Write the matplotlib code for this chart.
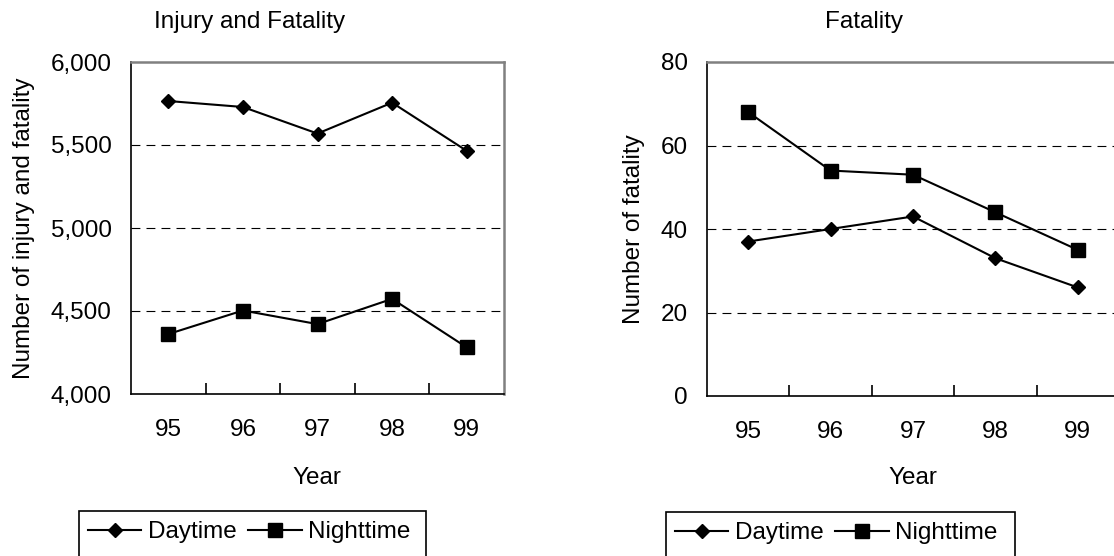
import numpy as np
import matplotlib.pyplot as plt
from matplotlib.patches import Rectangle
from matplotlib.lines import Line2D

plt.rcParams['font.family'] = ['Liberation Sans', 'DejaVu Sans']

years = ['95', '96', '97', '98', '99']
injury_day = [5765, 5729, 5569, 5755, 5465]
injury_night = [4361, 4503, 4421, 4573, 4281]
fatal_day = [37, 40, 43, 33, 26]
fatal_night = [68, 54, 53, 44, 35]

injury_ticks = [4000, 4500, 5000, 5500, 6000]
fatal_ticks = [0, 20, 40, 60, 80]

W, H = 1114, 556
FS = 17.5
fig = plt.figure(figsize=(W / 100, H / 100), dpi=100)


def px_axes(x0, y0, x1, y1):
    return fig.add_axes([x0 / W, 1 - y1 / H, (x1 - x0) / W, (y1 - y0) / H])


def draw(ax, day, night, yticks):
    x = np.arange(len(years))
    ax.plot(x, day, color='black', lw=1.5, marker='D', ms=7, zorder=3)
    ax.plot(x, night, color='black', lw=1.5, marker='s', ms=9.5, zorder=3)
    ax.set_xlim(-0.5, len(years) - 0.5)
    ax.set_ylim(yticks[0], yticks[-1])
    ax.set_xticks(x)
    ax.set_xticklabels(years)
    ax.set_xticks(x[:-1] + 0.5, minor=True)
    ax.tick_params(axis='x', which='major', length=0, pad=18, labelsize=FS)
    ax.tick_params(axis='x', which='minor', direction='in', length=8, width=1.2, color='black')
    ax.set_yticks(yticks)
    ax.set_yticklabels([f'{v:,}' for v in yticks])
    ax.tick_params(axis='y', length=0, pad=14, labelsize=FS)
    for y in yticks[1:-1]:
        ax.axhline(y, color='black', lw=0.8, ls=(0, (8, 5.5)), zorder=1)
    for s in ['left', 'bottom']:
        ax.spines[s].set_color('black')
        ax.spines[s].set_linewidth(1.2)
    for s in ['top', 'right']:
        ax.spines[s].set_color('#808080')
        ax.spines[s].set_linewidth(1.8)


ax1 = px_axes(131, 62, 504, 394)
ax2 = px_axes(707, 62, 1119, 396)
draw(ax1, injury_day, injury_night, injury_ticks)
draw(ax2, fatal_day, fatal_night, fatal_ticks)

# titles and axis labels
fig.text(250 / W, 1 - 28 / H, 'Injury and Fatality', ha='center', va='baseline', fontsize=FS)
fig.text(864 / W, 1 - 28 / H, 'Fatality', ha='center', va='baseline', fontsize=FS)
fig.text(317 / W, 1 - 484 / H, 'Year', ha='center', va='baseline', fontsize=FS)
fig.text(913 / W, 1 - 484 / H, 'Year', ha='center', va='baseline', fontsize=FS)
fig.text(24 / W, 1 - 228 / H, 'Number of injury and fatality', rotation=90,
         ha='center', va='center', fontsize=FS)
fig.text(634 / W, 1 - 229 / H, 'Number of fatality', rotation=90,
         ha='center', va='center', fontsize=FS)

# legends with an open-bottom box
handles = [
    Line2D([], [], color='black', lw=1.5, marker='D', ms=7),
    Line2D([], [], color='black', lw=1.5, marker='s', ms=9.5),
]
for box_x0, box_x1, box_top in [(79, 426, 511), (666, 1015, 512)]:
    fig.legend(handles, ['Daytime', 'Nighttime'], ncol=2, frameon=False,
               loc='center left', bbox_to_anchor=((box_x0 + 9) / W, 1 - (box_top + 21) / H),
               borderpad=0, handlelength=2.2, handletextpad=0.25, columnspacing=0.5,
               fontsize=FS, borderaxespad=0)
    fig.add_artist(Rectangle((box_x0 / W, -0.2), (box_x1 - box_x0) / W, 0.2 + (H - box_top) / H,
                             transform=fig.transFigure, fill=False, ec='black', lw=1.2))

fig.savefig('out.png', dpi=100)
